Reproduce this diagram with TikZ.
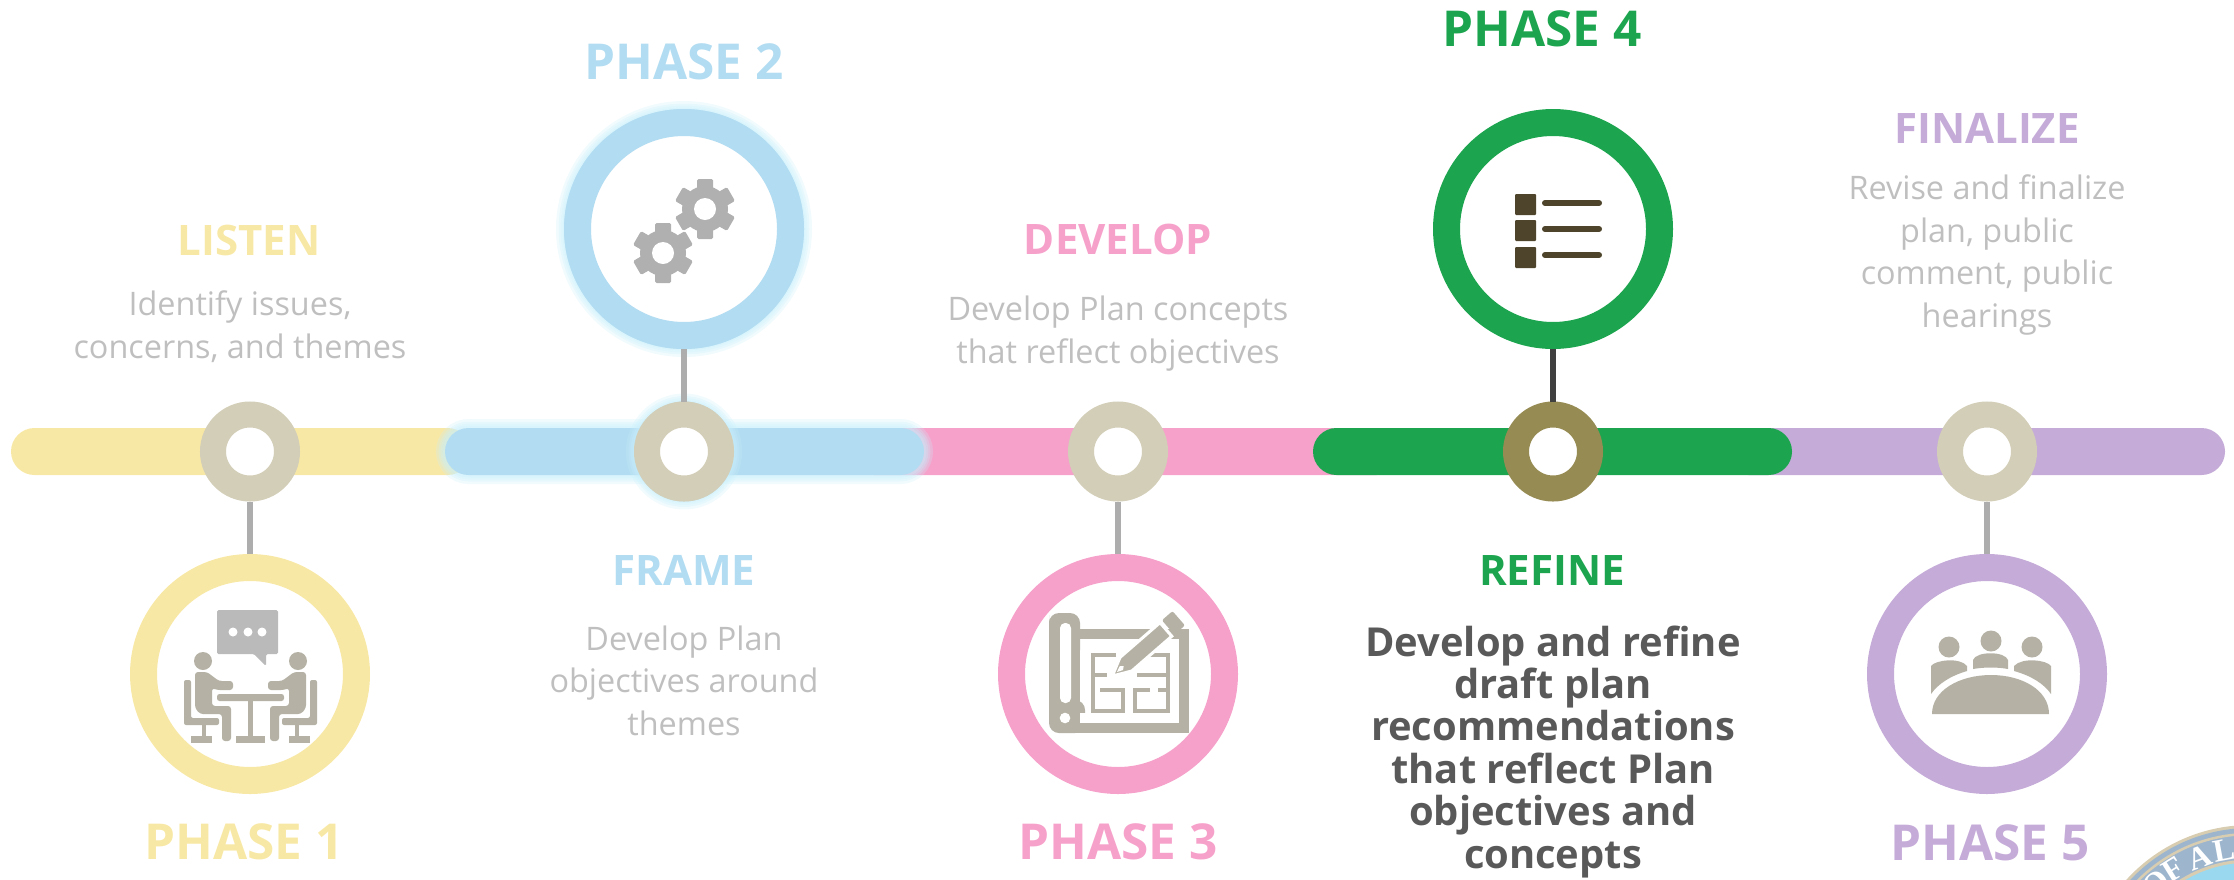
\documentclass[tikz,border=0pt]{standalone}
\usepackage{fontspec}
\setmainfont{Open Sans}
\newfontfamily\sealfont{Liberation Serif}
\usepackage{tikz}
\usetikzlibrary{positioning}
\definecolor{listencol}{HTML}{F8E8A6}
\definecolor{framecol}{HTML}{B2DCF1}
\definecolor{developcol}{HTML}{F6A1CA}
\definecolor{refinecol}{HTML}{1CA54E}
\definecolor{finalcol}{HTML}{C5ABD8}
\definecolor{hubcol}{HTML}{D3CEB7}
\definecolor{hubdark}{HTML}{968B52}
\definecolor{stemcol}{HTML}{ADADAD}
\definecolor{stemdark}{HTML}{404040}
\definecolor{bodycol}{HTML}{BFBFBF}
\definecolor{strongcol}{HTML}{595959}
\definecolor{iconcol}{HTML}{B5B2A5}
\definecolor{gearcol}{HTML}{B0B0B0}
\definecolor{bubblecol}{HTML}{BABABA}
\definecolor{listcol}{HTML}{4D442B}
\definecolor{glowcol}{HTML}{C8EFFB}
\definecolor{sealband}{HTML}{9DB6CE}
\definecolor{sealtan}{HTML}{D8CDB0}
\definecolor{sealsky}{HTML}{9AD8F0}
\tikzstyle{bar} = [rectangle, rounded corners=23.5pt, minimum height=47pt, inner sep=0pt, outer sep=0pt]
\tikzstyle{hub} = [circle, draw=hubcol, fill=white, line width=26pt, minimum size=74pt, inner sep=0pt]
\tikzstyle{ring} = [circle, fill=white, line width=27pt, minimum size=213pt, inner sep=0pt]
\tikzstyle{stem} = [line width=5.5pt, draw=stemcol]
\tikzstyle{phasehead} = [anchor=base, inner sep=0pt, font=\fontsize{49.5}{49.5}\selectfont\bfseries]
\tikzstyle{stagehead} = [anchor=base, inner sep=0pt, font=\fontsize{42}{42}\selectfont\bfseries]
\tikzstyle{blurb} = [anchor=base, inner sep=0pt, align=center, text=bodycol, font=\fontsize{32.4}{42.5}\selectfont]
\tikzstyle{strongblurb} = [anchor=base, inner sep=0pt, align=center, text=strongcol, font=\fontsize{39.9}{42.4}\selectfont\bfseries]
\tikzstyle{glow} = [draw=glowcol, opacity=.25]
\tikzstyle{plan} = [draw=iconcol, line width=4.5pt]
\begin{document}
\begin{tikzpicture}[x=1pt, y=-1pt, node distance=52.5pt]
 \useasboundingbox (0,0) rectangle (2234,879);

 \begin{scope}
  \clip (0,0) rectangle (2234,879);
  \fill [sealtan] (2250,992) circle [radius=167];
  \fill [sealband] (2250,992) circle [radius=164];
  \draw [sealtan, line width=2.5pt] (2250,992) circle [radius=158];
  \draw [sealtan, line width=3pt, fill=sealsky] (2250,992) circle [radius=131];
  \foreach \letter/\ang in {O/41,F/32,A/20.5,L/10.5}
   \node [rotate=\ang, text=white, inner sep=0pt, font=\fontsize{32}{32}\sealfont\bfseries] at ({2250-144*sin(\ang)},{992-144*cos(\ang)}) {\letter};
 \end{scope}

 \node (bara) [bar, fill=listencol, minimum width=460pt] at (241,451.5) {};
 \node (barc) [bar, fill=developcol, minimum width=550pt] at (1125,451.5) {};
 \node (bare) [bar, fill=finalcol, minimum width=500pt] at (1975,451.5) {};
 \foreach \w in {18,13,9,5}
  \draw [glow, line width=\w pt, rounded corners=23.5pt] (445,428) rectangle (924,475);
 \node (barb) [bar, fill=framecol, minimum width=479pt] at (684.5,451.5) {};
 \node (bard) [bar, fill=refinecol, minimum width=479pt] at (1552.5,451.5) {};

 \node (huba) [hub] at (250,451.5) {};
 \node (hubb) [hub, right=334pt of huba] {};
 \node (hubc) [hub, right=334pt of hubb] {};
 \node (hubd) [hub, right=335pt of hubc, draw=hubdark] {};
 \node (hube) [hub, right=334pt of hubd] {};

 \node (ringa) [ring, draw=listencol, below=of huba] {};
 \node (ringb) [ring, draw=framecol, above=of hubb] {};
 \node (ringc) [ring, draw=developcol, below=of hubc] {};
 \node (ringd) [ring, draw=refinecol, above=of hubd] {};
 \node (ringe) [ring, draw=finalcol, below=of hube] {};

 \foreach \w in {16,11,7,3} {
  \draw [glow, line width=\w pt] (hubb) circle [radius=50];
  \draw [glow, line width=\w pt] (ringb) circle [radius=120];
 }
 \node [hub] at (hubb) {};
 \node [ring, draw=framecol] at (ringb) {};

 \draw [stem] (huba) -- (ringa);
 \draw [stem] (hubb) -- (ringb);
 \draw [stem] (hubc) -- (ringc);
 \draw [stem, draw=stemdark] (hubd) -- (ringd);
 \draw [stem] (hube) -- (ringe);

 \node (headlisten) [stagehead, text=listencol] at (249,255) {LISTEN};
 \node (headframe) [stagehead, text=framecol] at (684,585) {FRAME};
 \node (headdevelop) [stagehead, text=developcol] at (1118,254) {DEVELOP};
 \node (headrefine) [stagehead, text=refinecol] at (1552,585) {REFINE};
 \node (headfinal) [stagehead, text=finalcol] at (1987,143) {FINALIZE};

 \node (phasea) [phasehead, text=listencol] at (244,859) {PHASE 1};
 \node (phaseb) [phasehead, text=framecol] at (684,79) {PHASE 2};
 \node (phasec) [phasehead, text=developcol] at (1118,859) {PHASE 3};
 \node (phased) [phasehead, text=refinecol] at (1542,46) {PHASE 4};
 \node (phasee) [phasehead, text=finalcol] at (1990,860) {PHASE 5};

 \node (blurba) [blurb] at (240,358) {Identify issues,\\concerns, and themes};
 \node (blurbb) [blurb] at (684,735) {Develop Plan\\objectives around\\themes};
 \node (blurbc) [blurb] at (1118,363) {Develop Plan concepts\\that reflect objectives};
 \node (blurbd) [strongblurb] at (1553,868) {Develop and refine\\draft plan\\recommendations\\that reflect Plan\\objectives and\\concepts};
 \node (blurbe) [blurb] at (1987,327) {Revise and finalize\\plan, public\\comment, public\\hearings};

 \fill [bubblecol, rounded corners=1.5pt] (217,610) -- (278,610) -- (278,654) -- (266,654) -- (266,666) -- (254,654) -- (217,654) -- cycle;
 \foreach \x in {233,248,262}
  \fill [white] (\x,632) circle [radius=4.5];
 \fill [iconcol] (203,661) circle [radius=9];
 \fill [iconcol] (298,661) circle [radius=9];
 \fill [iconcol, rounded corners=2.5pt] (217,694) rectangle (284,701);
 \fill [iconcol] (248,700) rectangle (253,737);
 \fill [iconcol] (236,736) rectangle (265,743);
 \foreach \flip/\off in {1/0,-1/501} {
  \begin{scope}[xscale=\flip, xshift=-\off pt]
   \fill [iconcol, rounded corners=3pt] (195,672) -- (207,672) -- (219,681) -- (233,681) -- (233,690) -- (217,690) -- (212,688) -- (212,706) -- (231,706) -- (231,741) -- (222,741) -- (222,714) -- (200,714) -- (195,708) -- cycle;
   \fill [iconcol, rounded corners=2pt] (184,680) -- (191,680) -- (191,718) -- (219,718) -- (219,725) -- (184,725) -- cycle;
   \fill [iconcol] (202,725) rectangle (206,737);
   \fill [iconcol] (191,736) rectangle (212,743);
  \end{scope}
 }

 \foreach \gx/\gy in {705/209,663/253} {
  \begin{scope}[shift={(\gx,\gy)}]
   \fill [gearcol] (0,0) circle [radius=23];
   \foreach \a in {0,60,120}
    \fill [gearcol, rotate=\a, rounded corners=1.5pt] (-8,-30) rectangle (8,30);
   \fill [white] (0,0) circle [radius=11];
  \end{scope}
 }

 \fill [iconcol, rounded corners=10pt] (1049,625) -- (1049,613) -- (1080,613) -- (1080,660) -- (1049,660) -- cycle;
 \fill [iconcol] (1049,629) rectangle (1080,715);
 \fill [iconcol, rounded corners=10pt] (1049,700) -- (1049,733) -- (1085,733) -- (1085,700) -- cycle;
 \fill [iconcol] (1075,629) rectangle (1189,639);
 \fill [iconcol] (1179,629) rectangle (1189,733);
 \fill [iconcol] (1075,723) rectangle (1189,733);
 \fill [white] (1080,713) rectangle (1090,723);
 \fill [white, rounded corners=5pt] (1060,623) rectangle (1071,703);
 \fill [white] (1065,718) circle [radius=5.3];
 \draw [plan] (1116,655) -- (1093,655) -- (1093,711) -- (1123,711) -- (1123,690) -- (1100,690);
 \draw [plan] (1093,675) -- (1107,675);
 \draw [plan] (1150,655) -- (1168,655) -- (1168,711) -- (1135,711) -- (1135,690) -- (1150,690);
 \draw [plan] (1137,675) -- (1168,675);
 \draw [plan] (1158,690) -- (1168,690);
 \begin{scope}[shift={(1112.3,676)}, rotate=41]
  \filldraw [fill=iconcol, draw=white, line width=3pt] (0,0) -- (18,-9) -- (71,-9) -- (71,9) -- (18,9) -- cycle;
  \filldraw [fill=iconcol, draw=none, rounded corners=2pt] (74,-9.5) rectangle (88,9.5);
  \fill [white] (6,0) -- (12,-2.5) -- (15,0) -- (12,2.5) -- cycle;
 \end{scope}

 \foreach \sy/\ly in {194/203,220/229,247/255} {
  \fill [listcol, rounded corners=1pt] (1515,\sy) rectangle +(21,21);
  \draw [listcol, line width=6pt, line cap=round] (1545,\ly) -- (1599,\ly);
 }

 \fill [iconcol] (1949,647) circle [radius=10.5];
 \fill [iconcol] (1991,641) circle [radius=10.5];
 \fill [iconcol] (2032,647) circle [radius=10.5];
 \fill [iconcol] (1932,714) .. controls (1932,690) and (1960,675) .. (1991,675) .. controls (2022,675) and (2049,690) .. (2049,714) -- cycle;
 \fill [iconcol] (1931,694) -- (1931,666) .. controls (1935,660) and (1960,657) .. (1967,666) -- (1967,671) .. controls (1950,676) and (1938,684) .. (1931,694) -- cycle;
 \fill [iconcol] (2051,694) -- (2051,666) .. controls (2047,660) and (2022,657) .. (2014,666) -- (2014,671) .. controls (2032,676) and (2044,684) .. (2051,694) -- cycle;
 \fill [iconcol] (1973,669) -- (1973,660) .. controls (1976,651) and (2005,651) .. (2008,660) -- (2008,669) .. controls (1998,667) and (1984,667) .. (1973,669) -- cycle;
\end{tikzpicture}
\end{document}
